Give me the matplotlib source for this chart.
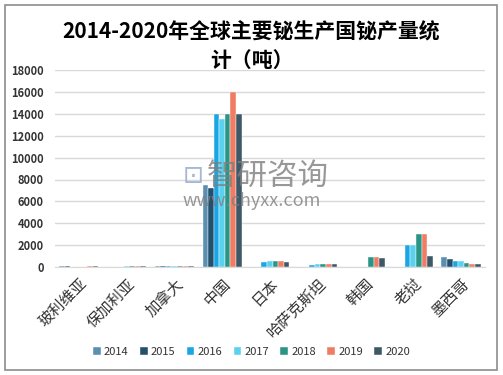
import numpy as np
import matplotlib.pyplot as plt
from matplotlib.patches import Rectangle

plt.rcParams['font.family'] = ['Noto Sans CJK SC', 'DejaVu Sans']

countries = ['玻利维亚', '保加利亚', '加拿大', '中国', '日本', '哈萨克斯坦', '韩国', '老挝', '墨西哥']
years = ['2014', '2015', '2016', '2017', '2018', '2019', '2020']

# production by year (tonnes), one list per year, in country order
y2014 = [80, 0, 50, 7500, 0, 0, 0, 0, 920]
y2015 = [80, 0, 50, 7200, 0, 0, 0, 0, 700]
y2016 = [0, 0, 50, 14000, 430, 150, 0, 2000, 550]
y2017 = [0, 60, 50, 13500, 540, 270, 0, 2000, 550]
y2018 = [0, 60, 50, 14000, 540, 270, 920, 3000, 370]
y2019 = [80, 60, 50, 16000, 540, 270, 920, 3000, 275]
y2020 = [80, 60, 50, 14000, 450, 270, 830, 1000, 275]
series = [y2014, y2015, y2016, y2017, y2018, y2019, y2020]

colors = ['#5a8fb0', '#23506e', '#1aa6e4', '#5ad2ee', '#2a9485', '#ee7d63', '#3e5868']

fig = plt.figure(figsize=(5.03, 3.75), dpi=100)
ax = fig.add_axes([0.109, 0.288, 0.855, 0.525])

x = np.arange(len(countries))
w = 0.117
for i, (vals, c) in enumerate(zip(series, colors)):
    ax.bar(x + (i - 3) * w, vals, width=w, color=c, edgecolor='#ffffff', linewidth=0.3,
           label=years[i], zorder=3)

ax.set_xlim(-0.5, len(countries) - 0.5)
ax.set_ylim(0, 18000)
ax.set_yticks(range(0, 18001, 2000))
ax.grid(axis='y', color='#d9d9d9', linewidth=1, zorder=0)
for s in ['left', 'right', 'top']:
    ax.spines[s].set_visible(False)
ax.spines['bottom'].set_color('#d9d9d9')
ax.tick_params(axis='y', length=0, labelsize=8, labelcolor='#333333', pad=8)
for t in ax.get_yticklabels():
    t.set_fontweight('bold')
ax.set_xticks(x)
ax.set_xticklabels(countries, rotation=45, ha='right', va='top', fontsize=11,
                   rotation_mode='anchor', color='#333333')
ax.tick_params(axis='x', length=0, pad=6)

fig.text(0.5, 0.915, '2014-2020年全球主要铋生产国铋产量统', ha='center', va='center',
         fontsize=15, fontweight='bold')
fig.text(0.5, 0.84, '计（吨）', ha='center', va='center', fontsize=15, fontweight='bold')

leg = fig.legend(loc='center', bbox_to_anchor=(0.5, 0.062), ncol=7, frameon=False,
                 fontsize=8, handlelength=0.7, handleheight=0.7, handletextpad=0.3,
                 columnspacing=1.0)
for t in leg.get_texts():
    t.set_color('#333333')

# watermark
fig.text(0.533, 0.53, '智研咨询', ha='center', va='center', fontsize=22,
         color='#7f7f7f', alpha=0.8)
fig.text(0.385, 0.53, '⊡', ha='center', va='center', fontsize=18, color='#8fa6cc', alpha=0.8)
fig.text(0.5, 0.465, 'www.chyxx.com', ha='center', va='center', fontsize=13,
         color='#7f7f7f', alpha=0.8)

fig.patches.append(Rectangle((0.01, 0.013), 0.978, 0.974, transform=fig.transFigure,
                             fill=False, edgecolor='#8c8c8c', linewidth=1.2))

fig.savefig('out.png', dpi=100)
